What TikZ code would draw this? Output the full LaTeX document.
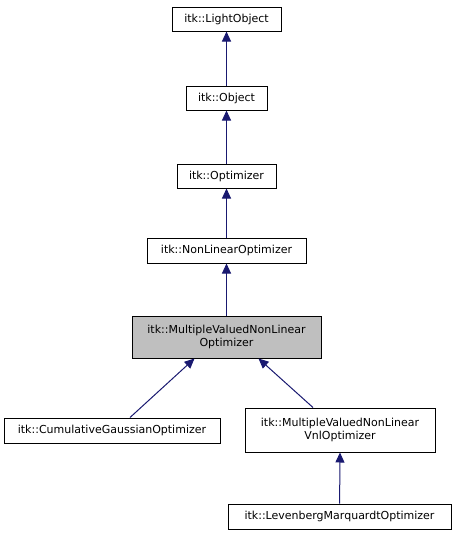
\documentclass[tikz,border=0pt]{standalone}
\usepackage{fontspec}
\setmainfont{DejaVu Sans}
\usetikzlibrary{arrows.meta}
\definecolor{edgeblue}{HTML}{191970}
\definecolor{boxgray}{HTML}{BFBFBF}
\begin{document}
\begin{tikzpicture}[x=1pt,y=-1pt,
  cls/.style={draw=black, line width=1pt, fill=white, inner sep=0pt, align=center,
    font=\fontsize{11}{13.5}\selectfont},
  edge/.style={draw=edgeblue, line width=1pt, -{Triangle[length=10pt,width=9pt]}}]
\useasboundingbox (0,0) rectangle (456,536);
\node[cls, minimum width=109pt, minimum height=24pt] (lo) at (226.5,19) {itk::LightObject};
\node[cls, minimum width=81pt, minimum height=24pt] (obj) at (226.5,98) {itk::Object};
\node[cls, minimum width=99pt, minimum height=24pt] (opt) at (226.5,176) {itk::Optimizer};
\node[cls, minimum width=159pt, minimum height=25pt] (nlo) at (226.5,250.5) {itk::NonLinearOptimizer};
\node[cls, fill=boxgray, minimum width=189pt, minimum height=42pt] (mv) at (226.5,337) {itk::MultipleValuedNonLinear\\Optimizer};
\node[cls, minimum width=216pt, minimum height=25pt] (cum) at (112,430.5) {itk::CumulativeGaussianOptimizer};
\node[cls, minimum width=190pt, minimum height=44pt] (vnl) at (340,430) {itk::MultipleValuedNonLinear\\VnlOptimizer};
\node[cls, minimum width=223pt, minimum height=25pt] (lm) at (339.5,516.5) {itk::LevenbergMarquardtOptimizer};
\draw[edge] (obj) -- (lo);
\draw[edge] (opt) -- (obj);
\draw[edge] (nlo) -- (opt);
\draw[edge] (mv) -- (nlo);
\draw[edge] ([xshift=18pt]cum.north) -- ([xshift=-32pt]mv.south);
\draw[edge] ([xshift=-27pt]vnl.north) -- ([xshift=32pt]mv.south);
\draw[edge] (lm) -- (vnl.south);
\end{tikzpicture}
\end{document}
